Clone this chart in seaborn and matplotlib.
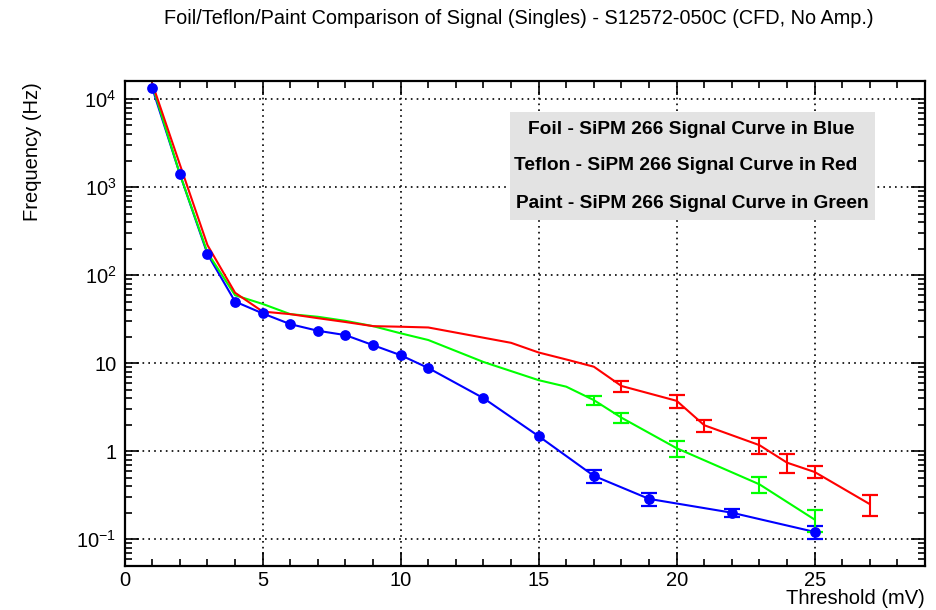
import numpy as np
import pandas as pd
import seaborn as sns
import matplotlib
matplotlib.use("Agg")
import matplotlib.pyplot as plt
from matplotlib.patches import Rectangle
from matplotlib.ticker import FixedLocator, FixedFormatter, LogLocator, MultipleLocator, NullFormatter

# ---- data: signal rate vs CFD threshold for three wrappings ----
foil_x = [1, 2, 3, 4, 5, 6, 7, 8, 9, 10, 11, 13, 15, 17, 19, 22, 25]
foil_y = [13300, 1400, 173, 50, 36.7, 27.7, 23.3, 20.8, 16.0, 12.3, 8.8, 4.0, 1.48, 0.524, 0.287, 0.20, 0.121]
foil_err = [0, 0, 0, 0, 0, 0, 0, 0, 0, 0, 0, 0, 0, 0.085, 0.05, 0.02, 0.02]

teflon_x = [1, 2, 3, 4, 5, 6, 7, 8, 9, 10, 11, 14, 15, 16, 17, 18, 20, 21, 23, 24, 25, 27]
teflon_y = [15000, 1800, 219, 63, 38.5, 36, 32.4, 29.3, 26.3, 25.9, 25.4, 17.0, 13.2, 11.0, 9.1,
            5.5, 3.73, 1.97, 1.17, 0.74, 0.58, 0.25]
teflon_err = [0, 0, 0, 0, 0, 0, 0, 0, 0, 0, 0, 0, 0, 0, 0,
              0.75, 0.6, 0.3, 0.23, 0.18, 0.09, 0.065]

paint_x = [1, 2, 3, 4, 5, 6, 7, 8, 9, 10, 11, 13, 15, 16, 17, 18, 20, 23, 25]
paint_y = [14400, 1400, 180, 59, 47, 36, 33.6, 30.2, 26.3, 21.8, 18.3, 10.3, 6.4, 5.4, 3.8,
           2.4, 1.08, 0.42, 0.167]
paint_err = [0, 0, 0, 0, 0, 0, 0, 0, 0, 0, 0, 0, 0, 0, 0.47, 0.32, 0.23, 0.085, 0.045]

legend_lines = ["Foil - SiPM 266 Signal Curve in Blue",
                "Teflon - SiPM 266 Signal Curve in Red",
                "Paint - SiPM 266 Signal Curve in Green"]
y_tick_values = [0.1, 1, 10, 100, 1000, 10000]
y_tick_labels = ["$10^{-1}$", "1", "10", "$10^{2}$", "$10^{3}$", "$10^{4}$"]

frames = []
for name, xs, ys, es in [("Foil", foil_x, foil_y, foil_err),
                         ("Teflon", teflon_x, teflon_y, teflon_err),
                         ("Paint", paint_x, paint_y, paint_err)]:
    frames.append(pd.DataFrame({"threshold": xs, "freq": ys, "err": es, "material": name}))
df = pd.concat(frames, ignore_index=True)

palette = {"Foil": "#0000ff", "Teflon": "#ff0000", "Paint": "#00ff00"}

sns.set_theme(style="white")
plt.rcParams["font.family"] = ["Liberation Sans", "DejaVu Sans"]
plt.rcParams["mathtext.fontset"] = "custom"
plt.rcParams["mathtext.rm"] = "Liberation Sans"
plt.rcParams["mathtext.it"] = "Liberation Sans"
plt.rcParams["text.color"] = "black"
plt.rcParams["axes.labelcolor"] = "black"

W, H = 936, 610
fig = plt.figure(figsize=(W / 100, H / 100), dpi=100)
ax = fig.add_axes([0.1332, 0.0726, 0.8551, 0.7946])

ax.set_yscale("log")

# connecting lines
sns.lineplot(data=df, x="threshold", y="freq", hue="material", palette=palette,
             hue_order=["Foil", "Paint", "Teflon"],
             estimator=None, sort=False, linewidth=1.5, legend=False, ax=ax, zorder=3)

# error bars where the uncertainty is visible
for name, sub in df.groupby("material"):
    sub = sub[sub["err"] > 0]
    ax.errorbar(sub["threshold"], sub["freq"], yerr=sub["err"], fmt="none",
                ecolor=palette[name], elinewidth=1.5, capsize=5.5, capthick=1.6, zorder=4)

# markers for the foil series
sns.scatterplot(data=df[df["material"] == "Foil"], x="threshold", y="freq",
                color="#0000ff", s=60, edgecolor="#0000ff", linewidth=0, ax=ax, zorder=5,
                legend=False)

ax.set_xlim(0, 29)
ax.set_ylim(0.05, 16000)

ax.xaxis.set_major_locator(MultipleLocator(5))
ax.xaxis.set_minor_locator(MultipleLocator(1))
ax.yaxis.set_major_locator(FixedLocator(y_tick_values))
ax.yaxis.set_major_formatter(FixedFormatter(y_tick_labels))
ax.yaxis.set_minor_locator(LogLocator(base=10, subs=np.arange(2, 10)))
ax.yaxis.set_minor_formatter(NullFormatter())

ax.tick_params(which="both", direction="in", top=True, right=True, bottom=True, left=True,
               colors="black", labelcolor="black", width=1.2, labelsize=14.5)
ax.tick_params(which="major", length=10)
ax.tick_params(which="minor", length=5)
ax.tick_params(axis="x", which="major", pad=4)
ax.tick_params(axis="y", which="major", pad=6)

ax.grid(True, which="major", color="black", linestyle=(0, (1, 2.5)), linewidth=1.2)
for sp in ax.spines.values():
    sp.set_color("black")
    sp.set_linewidth(1.6)

ax.set_xlabel("")
ax.set_ylabel("")
fig.text(925 / W, 1 - 598 / H, "Threshold (mV)", ha="right", va="center", fontsize=14.5)
fig.text(32 / W, 1 - 82 / H, "Frequency (Hz)", ha="center", va="top", rotation=90, fontsize=14.5)

fig.text(519 / W, 1 - 18 / H, "Foil/Teflon/Paint Comparison of Signal (Singles) - S12572-050C (CFD, No Amp.)",
         ha="center", va="center", fontsize=14.3)

# annotation box
box = Rectangle((510 / W, 1 - 220 / H), 365 / W, 108 / H, transform=fig.transFigure,
                facecolor="#e3e3e3", edgecolor="none", zorder=6)
fig.add_artist(box)
for txt, ypix, xpix in zip(legend_lines, [130, 166, 203], [691, 686, 692]):
    fig.text(xpix / W, 1 - ypix / H, txt, ha="center", va="center", fontsize=13.8,
             fontweight="bold", color="black", zorder=7)

fig.savefig("out.png", dpi=100, facecolor="white")
